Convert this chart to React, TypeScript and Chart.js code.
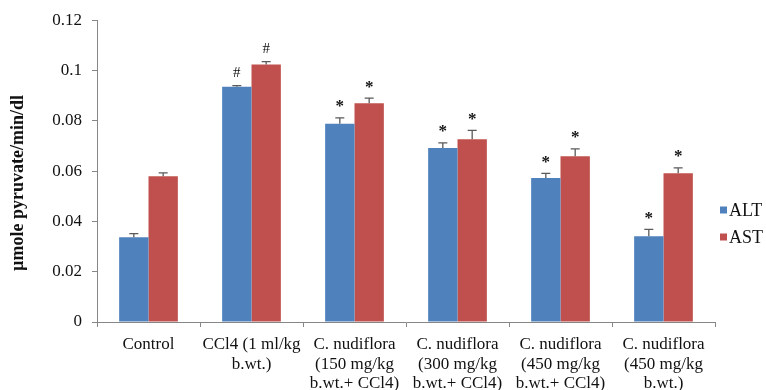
import React, { useEffect, useRef } from "react";
import { Chart, registerables } from "chart.js";

Chart.register(...registerables);

const categories: string[][] = [
  ["Control"],
  ["CCl4 (1 ml/kg", "b.wt.)"],
  ["C. nudiflora", "(150 mg/kg", "b.wt.+ CCl4)"],
  ["C. nudiflora", "(300 mg/kg", "b.wt.+ CCl4)"],
  ["C. nudiflora", "(450 mg/kg", "b.wt.+ CCl4)"],
  ["C. nudiflora", "(450 mg/kg", "b.wt.)"],
];
const seriesNames = ["ALT", "AST"];
const altValues = [0.0337, 0.0935, 0.0788, 0.0692, 0.0573, 0.0341];
const altErrors = [0.0014, 0.0005, 0.0024, 0.002, 0.0018, 0.0027];
const astValues = [0.058, 0.1024, 0.087, 0.0727, 0.0659, 0.0591];
const astErrors = [0.0013, 0.0011, 0.002, 0.0035, 0.0029, 0.0022];
const altMarks = ["", "#", "*", "*", "*", "*"];
const astMarks = ["", "#", "*", "*", "*", "*"];
const yMin = 0;
const yMax = 0.12;
const yStep = 0.02;
const yTitle = "µmole pyruvate/min/dl";

const errorsBySeries = [altErrors, astErrors];
const marksBySeries = [altMarks, astMarks];
const colors = ["#4F81BD", "#C0504D"];
const FONT = "'Liberation Serif', 'Times New Roman', serif";

const overlay = {
  id: "overlay",
  afterDatasetsDraw(chart: any) {
    const ctx = chart.ctx;
    const y = chart.scales.y;
    const area = chart.chartArea;
    ctx.save();
    chart.data.datasets.forEach((ds: any, di: number) => {
      const meta = chart.getDatasetMeta(di);
      meta.data.forEach((bar: any, i: number) => {
        const v = ds.data[i];
        const e = errorsBySeries[di][i];
        const top = y.getPixelForValue(v + e);
        ctx.strokeStyle = "#5a5a5a";
        ctx.lineWidth = 1.3;
        ctx.beginPath();
        ctx.moveTo(bar.x, bar.y);
        ctx.lineTo(bar.x, top);
        ctx.moveTo(bar.x - 4.5, top);
        ctx.lineTo(bar.x + 4.5, top);
        ctx.stroke();
        const mark = marksBySeries[di][i];
        if (mark) {
          ctx.fillStyle = "#111";
          ctx.font = mark === "*" ? `bold 17px ${FONT}` : `15px ${FONT}`;
          ctx.textAlign = "center";
          ctx.textBaseline = "alphabetic";
          const m = ctx.measureText(mark);
          const asc = m.actualBoundingBoxAscent;
          const desc = m.actualBoundingBoxDescent;
          const cy = top - 14;
          ctx.fillText(mark, bar.x, cy + (asc - desc) / 2);
        }
      });
    });
    // legend
    ctx.font = `18px ${FONT}`;
    ctx.textAlign = "left";
    ctx.textBaseline = "middle";
    chart.data.datasets.forEach((ds: any, di: number) => {
      const cy = 210 + di * 27;
      const x0 = area.right + 5;
      ctx.fillStyle = ds.backgroundColor;
      ctx.fillRect(x0, cy - 3.5, 7, 7);
      ctx.fillStyle = "#111";
      ctx.fillText(ds.label, x0 + 9, cy + 1);
    });
    // y title
    ctx.save();
    ctx.translate(18, 183);
    ctx.rotate(-Math.PI / 2);
    ctx.font = `bold 18px ${FONT}`;
    ctx.textAlign = "center";
    ctx.textBaseline = "middle";
    ctx.fillStyle = "#111";
    ctx.fillText(yTitle, 0, 0);
    ctx.restore();
    ctx.restore();
  },
};

export default function App() {
  const ref = useRef<HTMLCanvasElement>(null);
  useEffect(() => {
    if (!ref.current) return;
    const chart = new Chart(ref.current, {
      type: "bar",
      data: {
        labels: categories,
        datasets: [
          { label: seriesNames[0], data: altValues, backgroundColor: colors[0] },
          { label: seriesNames[1], data: astValues, backgroundColor: colors[1] },
        ],
      },
      options: {
        responsive: false,
        animation: false,
        events: [],
        layout: { padding: { top: 19, right: 51, left: 0, bottom: 0 } },
        datasets: { bar: { categoryPercentage: 0.57, barPercentage: 1 } },
        plugins: { legend: { display: false }, tooltip: { enabled: false } },
        scales: {
          x: {
            grid: { offset: true, drawOnChartArea: false, tickLength: 5, color: "#868686" },
            border: { color: "#868686" },
            ticks: {
              autoSkip: false,
              maxRotation: 0,
              minRotation: 0,
              padding: 8,
              color: "#111",
              font: { family: FONT, size: 17, lineHeight: 1.14 },
            },
            afterFit: (s: any) => {
              s.height = 68;
            },
          },
          y: {
            min: yMin,
            max: yMax,
            grid: { drawOnChartArea: false, tickLength: 5, color: "#868686" },
            border: { color: "#868686" },
            ticks: {
              stepSize: yStep,
              padding: 10,
              color: "#111",
              font: { family: FONT, size: 17 },
              callback: (v: any) => String(+Number(v).toFixed(2)),
            },
            afterFit: (s: any) => {
              s.width = 97;
            },
          },
        },
      },
      plugins: [overlay],
    });
    return () => chart.destroy();
  }, []);
  return (
    <canvas
      ref={ref}
      width={766}
      height={390}
      style={{ position: "absolute", left: 0, top: 0, background: "#fff" }}
    />
  );
}
